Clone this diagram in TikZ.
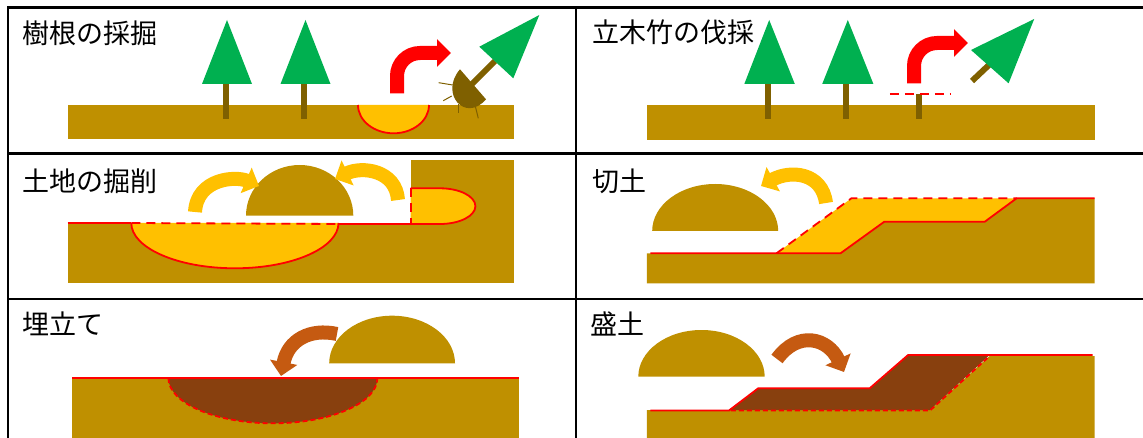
\documentclass[tikz,border=0pt]{standalone}
\usepackage{fontspec}
\newfontfamily\jp{Noto Sans CJK JP}
\usetikzlibrary{arrows.meta}
\definecolor{soil}{HTML}{BF9000}
\definecolor{dug}{HTML}{FFC000}
\definecolor{leaf}{HTML}{00B050}
\definecolor{bark}{HTML}{7F6000}
\definecolor{bank}{HTML}{88400E}
\definecolor{carry}{HTML}{C55A11}
\tikzstyle{ttl}=[anchor=west, inner sep=0, font=\jp\fontsize{27pt}{30pt}\selectfont]
\tikzstyle{tbl}=[line width=2.5pt, black]
\tikzstyle{soilfill}=[fill=soil, draw=none]
\tikzstyle{tree}=[fill=leaf, draw=none]
\tikzstyle{trunk}=[draw=bark, line width=6pt]
\tikzstyle{root}=[draw=bark, line width=1pt]
\tikzstyle{redln}=[draw=red, line width=1.8pt]
\tikzstyle{reddsh}=[draw=red, line width=1.8pt, dash pattern=on 9pt off 6pt]
\tikzstyle{bigarr}=[line width=14pt, -{Triangle[length=14pt,width=27pt]}]

\begin{document}
\begin{tikzpicture}[x=1pt, y=-1pt]
\useasboundingbox (0,0) rectangle (1143,438);
\draw[tbl] (8,7.5)--(1143,7.5);
\draw[tbl] (8,153.7)--(1143,153.7);
\draw[tbl] (8,299)--(1143,299);
\draw[tbl] (8,6.3)--(8,438);
\draw[tbl] (576,6.3)--(576,438);

\node at (22,33.5)[ttl](saikutsu){樹根の採掘};
\fill[soilfill] (67.7,105) rectangle (514.2,139.3);
\fill[dug] (358,105) arc[start angle=180, end angle=0, x radius=35.5, y radius=28.3] -- cycle;
\draw[redln] (358,105) arc[start angle=180, end angle=0, x radius=35.5, y radius=28.3];
\draw[trunk] (226,84)--(226,119);
\draw[trunk] (304,84)--(304,119);
\fill[tree] (227,20)--(252,84)--(202,84)--cycle;
\fill[tree] (305.5,20)--(330.5,84)--(280.5,84)--cycle;
\draw[bigarr, red] (397,93.3)--(397,76) arc[start angle=180, end angle=270, radius=23]--(451,53);
\draw[root] (452.7,85)--(438.7,82.7);
\draw[root] (451.7,96)--(443.3,100.7);
\draw[root] (458.7,104)--(458.7,112.7);
\draw[root] (475,105)--(478.3,118.3);
\draw[trunk] (470,86)--(495,61);
\fill[bark] (460,69.3) .. controls (439.1,93.4) and (465.1,123.4) .. (486,99.3) -- cycle;
\fill[tree] (539.3,15)--(479.3,46.7)--(513.3,78.3)--cycle;

\node at (592,32.5)[ttl](bassai){立木竹の伐採};
\fill[soilfill] (646.8,105) rectangle (1094.5,140);
\draw[trunk] (768,84)--(768,119);
\draw[trunk] (846,84)--(846,119);
\draw[trunk] (918.5,94.3)--(918.5,119);
\fill[tree] (769.2,20)--(794.8,84)--(744.3,84)--cycle;
\fill[tree] (847.8,20)--(873.4,84)--(822.2,84)--cycle;
\draw[reddsh] (889.8,94.3)--(950,94.3);
\draw[bigarr, red] (914,83.3)--(914,66) arc[start angle=180, end angle=270, radius=23]--(968,43);
\draw[trunk] (972,81)--(990,64);
\fill[tree] (1034.2,19)--(971,50)--(1008.6,83.3)--cycle;

\node at (22,181)[ttl](kussaku){土地の掘削};
\fill[soilfill] (67.7,223) rectangle (514.2,283.3);
\fill[soilfill] (410.7,160) rectangle (514.2,224);
\fill[dug] (131.3,223) arc[start angle=180, end angle=0, x radius=103.6, y radius=45.3] -- cycle;
\draw[redln] (131.3,223) arc[start angle=180, end angle=0, x radius=103.6, y radius=45.3];
\draw[reddsh] (131.3,223)--(338.5,224);
\draw[redln] (67.7,223)--(131.3,223);
\draw[redln] (338.5,224)--(410.7,224);
\fill[dug] (410.7,188.3)--(440,188.3) arc[start angle=270, end angle=450, x radius=35.4, y radius=17.85]--(410.7,224)--cycle;
\draw[redln] (410.7,188.3)--(440,188.3) arc[start angle=270, end angle=450, x radius=35.4, y radius=17.85]--(410.7,224);
\draw[reddsh] (410.7,188.3)--(410.7,224);
\fill[soil] (246,215.7) arc[start angle=180, end angle=360, x radius=53.65, y radius=50.7] -- cycle;
\draw[bigarr, dug] (195,212) .. controls (197,178) and (236,176) .. (259,186);
\draw[bigarr, dug] (398,200) .. controls (396,170) and (362,166) .. (335,179);

\node at (592,181.5)[ttl](kirido){切土};
\fill[soilfill] (646.8,253.3)--(840.5,253.3)--(884.3,221.7)--(984.8,221.7)--(1016.6,198.3)--(1094.5,198.3)--(1094.5,283.3)--(646.8,283.3)--cycle;
\fill[dug] (776.5,253.3)--(851.4,198.3)--(1016.6,198.3)--(984.8,221.7)--(884.3,221.7)--(840.5,253.3)--cycle;
\draw[redln] (650.4,253.3)--(840.5,253.3)--(884.3,221.7)--(984.8,221.7)--(1016.6,198.3)--(1094.5,198.3);
\draw[reddsh] (776.5,253.3)--(851.4,198.3)--(1016.6,198.3);
\fill[soil] (652.2,231) arc[start angle=180, end angle=360, x radius=63, y radius=47] -- cycle;
\draw[bigarr, dug] (826,203) .. controls (822,172) and (790,170) .. (761,186);

\node at (22,324)[ttl](umetate){埋立て};
\fill[soilfill] (72.1,376.7) rectangle (519,438);
\fill[bank] (168.4,378) arc[start angle=180, end angle=0, x radius=104.5, y radius=45.3] -- cycle;
\draw[reddsh, dash pattern=on 5pt off 3pt] (168.4,378) arc[start angle=180, end angle=0, x radius=104.5, y radius=45.3];
\draw[redln, line width=2pt] (72.1,377.7)--(519,377.7);
\fill[soil] (329.2,363.3) arc[start angle=180, end angle=360, x radius=62.9, y radius=47.6] -- cycle;
\draw[bigarr, carry] (337,334) .. controls (310,328) and (288,340) .. (281,376);

\node at (590,324)[ttl](morido){盛土};
\fill[soilfill] (646.8,410)--(930,410)--(989.6,356)--(1094.5,356)--(1094.5,438)--(646.8,438)--cycle;
\fill[bank] (729,410)--(758.2,388.3)--(869.7,388.3)--(908.1,355)--(989.6,355)--(930,410)--cycle;
\draw[redln] (650.4,410.5)--(729,410.5)--(758.2,388.3)--(869.7,388.3)--(908.1,355)--(1092.6,355);
\draw[reddsh, dash pattern=on 5pt off 3pt] (730.8,410.5)--(930,410.5)--(989.6,356);
\fill[soil] (638.3,376.7) arc[start angle=180, end angle=360, x radius=63.2, y radius=46.7] -- cycle;
\draw[bigarr, carry] (777,359) .. controls (798,330) and (828,338) .. (844,372);
\end{tikzpicture}
\end{document}
